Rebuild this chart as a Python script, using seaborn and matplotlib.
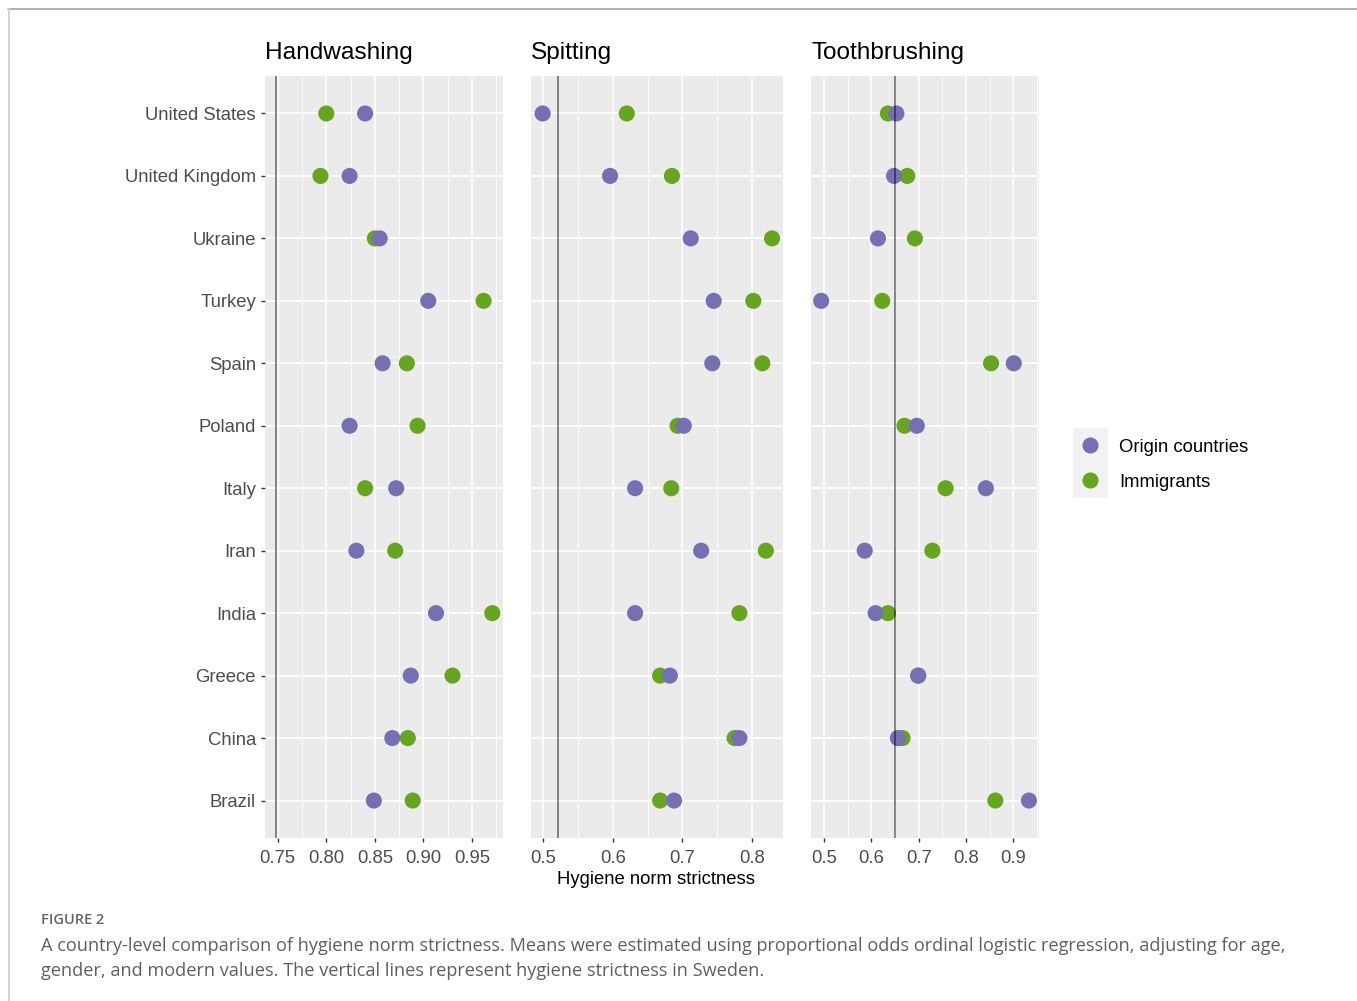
import numpy as np
import pandas as pd
import matplotlib
matplotlib.use("Agg")
import matplotlib.pyplot as plt
from matplotlib.lines import Line2D
from matplotlib.ticker import FixedLocator, MultipleLocator
import seaborn as sns

# ---- data -------------------------------------------------------------
countries = ["United States", "United Kingdom", "Ukraine", "Turkey", "Spain", "Poland",
             "Italy", "Iran", "India", "Greece", "China", "Brazil"]
groups = ["Origin countries", "Immigrants"]
norms = ["Handwashing", "Spitting", "Toothbrushing"]

handwashing_origin = [0.840, 0.824, 0.855, 0.905, 0.858, 0.824, 0.872, 0.831, 0.913, 0.887, 0.868, 0.849]
handwashing_immigrants = [0.800, 0.794, 0.850, 0.962, 0.883, 0.894, 0.840, 0.871, 0.971, 0.930, 0.884, 0.889]
spitting_origin = [0.499, 0.596, 0.712, 0.745, 0.743, 0.702, 0.632, 0.727, 0.632, 0.682, 0.782, 0.688]
spitting_immigrants = [0.620, 0.685, 0.829, 0.802, 0.815, 0.693, 0.684, 0.820, 0.782, 0.668, 0.775, 0.668]
toothbrushing_origin = [0.653, 0.648, 0.614, 0.494, 0.901, 0.696, 0.842, 0.586, 0.609, 0.699, 0.656, 0.933]
toothbrushing_immigrants = [0.635, 0.676, 0.692, 0.623, 0.853, 0.670, 0.757, 0.729, 0.635, 0.699, 0.666, 0.862]
sweden = [0.7485, 0.521, 0.650]

hw_ticks = [0.75, 0.80, 0.85, 0.90, 0.95]
hw_labels = ["0.75", "0.80", "0.85", "0.90", "0.95"]
sp_ticks = [0.5, 0.6, 0.7, 0.8]
sp_labels = ["0.5", "0.6", "0.7", "0.8"]
tb_ticks = [0.5, 0.6, 0.7, 0.8, 0.9]
tb_labels = ["0.5", "0.6", "0.7", "0.8", "0.9"]

# long table; immigrants first so origin points sit on top when they overlap
rows = []
series = {
    "Handwashing": (handwashing_origin, handwashing_immigrants),
    "Spitting": (spitting_origin, spitting_immigrants),
    "Toothbrushing": (toothbrushing_origin, toothbrushing_immigrants),
}
for norm in norms:
    origin, immig = series[norm]
    for c, v in zip(countries, immig):
        rows.append({"norm": norm, "country": c, "group": "Immigrants", "value": v})
    for c, v in zip(countries, origin):
        rows.append({"norm": norm, "country": c, "group": "Origin countries", "value": v})
df = pd.DataFrame(rows)

# ---- style ------------------------------------------------------------
sns.set_theme(style="darkgrid")
plt.rcParams["font.family"] = ["Liberation Sans", "DejaVu Sans"]

palette = {"Origin countries": "#7570B3", "Immigrants": "#66A61E"}
PANEL_BG = "#EBEBEB"
TICK_COLOR = "#333333"
LABEL_COLOR = "#4D4D4D"

W, H = 1357, 1001
fig = plt.figure(figsize=(W / 100, H / 100), dpi=100)
fig.patch.set_facecolor("white")


def px_axes(left, right, top, bottom):
    return fig.add_axes([left / W, 1 - bottom / H, (right - left) / W, (bottom - top) / H])


panel_px = [(265, 503), (531, 783), (811, 1039)]
xlims = [(0.7369, 0.9820), (0.4823, 0.8447), (0.4725, 0.9543)]
ticks = [(hw_ticks, hw_labels), (sp_ticks, sp_labels), (tb_ticks, tb_labels)]
minor_steps = [0.025, 0.05, 0.05]

for i, norm in enumerate(norms):
    left, right = panel_px[i]
    ax = px_axes(left, right, 76, 838)
    ax.set_facecolor(PANEL_BG)
    sub = df[df["norm"] == norm]
    sns.stripplot(data=sub, x="value", y="country", hue="group",
                  order=countries, hue_order=["Immigrants", "Origin countries"],
                  palette=palette, jitter=False, dodge=False, size=11.6,
                  linewidth=0, orient="h", legend=False, ax=ax, zorder=3)
    ax.axvline(sweden[i], color="black", alpha=0.45, lw=1.4, zorder=4)

    ax.set_xlim(*xlims[i])
    ax.set_ylim(len(countries) - 0.4, -0.6)
    tk, tl = ticks[i]
    ax.xaxis.set_major_locator(FixedLocator(tk))
    ax.set_xticklabels(tl)
    ax.xaxis.set_minor_locator(MultipleLocator(minor_steps[i]))
    ax.grid(True, which="major", axis="both", color="white", lw=1.15, zorder=0)
    ax.grid(True, which="minor", axis="x", color="white", lw=0.55, zorder=0)
    ax.set_axisbelow(True)
    for s in ax.spines.values():
        s.set_visible(False)
    ax.tick_params(axis="y", which="major", length=3, width=1.0, color=TICK_COLOR,
                   labelcolor=LABEL_COLOR, labelsize=13.3, pad=3.5, left=(i == 0))
    ax.tick_params(axis="x", which="major", length=3, width=1.0, color=TICK_COLOR,
                   labelcolor=LABEL_COLOR, labelsize=13.3, pad=5.5, bottom=True)
    ax.tick_params(axis="x", which="minor", length=0)
    if i > 0:
        ax.set_yticklabels([])
        ax.tick_params(axis="y", left=False)
    ax.set_xlabel("")
    ax.set_ylabel("")
    ax.set_title(norm, loc="left", fontsize=17.6, color="black", pad=12.3)

fig.text(656 / W, 1 - 880 / H, "Hygiene norm strictness", ha="center", va="center",
         fontsize=13.3, color="black")

# legend keys
lax = px_axes(1073, 1108, 428, 498)
lax.set_facecolor("#F2F2F2")
lax.set_xlim(0, 1)
lax.set_ylim(2, 0)
lax.scatter([0.5, 0.5], [0.5, 1.5], s=11.6 ** 2, c=[palette[g] for g in groups], linewidths=0)
lax.set_xticks([])
lax.set_yticks([])
lax.grid(False)
for s in lax.spines.values():
    s.set_visible(False)
for g, y in zip(groups, [447.5, 482.5]):
    fig.text(1119 / W, 1 - y / H, g, ha="left", va="center", fontsize=13.3, color="black")

# caption
cap_font = ["Open Sans", "DejaVu Sans"]
fig.text(41 / W, 1 - 920 / H, "FIGURE 2", ha="left", va="center", fontsize=10.5,
         color="#666666", family=cap_font, fontweight="semibold")
fig.text(41 / W, 1 - 946 / H,
         "A country-level comparison of hygiene norm strictness. Means were estimated using "
         "proportional odds ordinal logistic regression, adjusting for age,",
         ha="left", va="center", fontsize=13.05, color="#5f5f5f", family=cap_font)
fig.text(41 / W, 1 - 971 / H,
         "gender, and modern values. The vertical lines represent hygiene strictness in Sweden.",
         ha="left", va="center", fontsize=13.05, color="#5f5f5f", family=cap_font)

# page frame
fig.add_artist(Line2D([8 / W, 1], [1 - 8.5 / H, 1 - 8.5 / H], transform=fig.transFigure,
                      color="#aaaaaa", lw=1.3))
fig.add_artist(Line2D([8.5 / W, 8.5 / W], [0, 1 - 8.5 / H], transform=fig.transFigure,
                      color="#d0d0d0", lw=1.3))

fig.savefig("out.png", dpi=100)
